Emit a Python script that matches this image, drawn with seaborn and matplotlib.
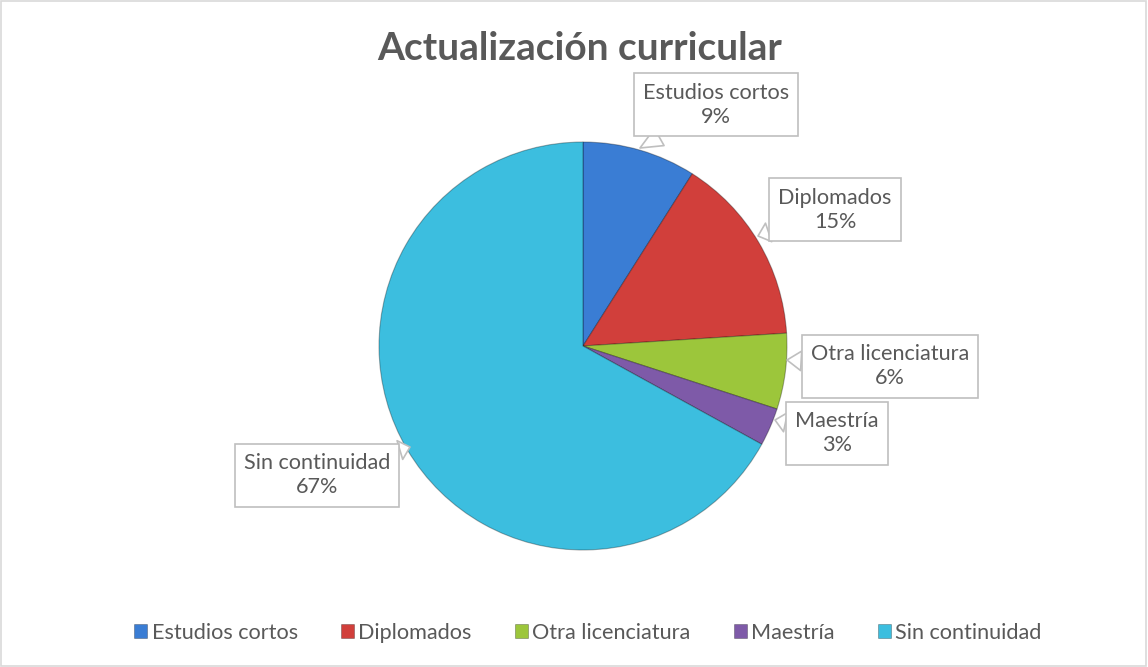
import matplotlib
matplotlib.use("Agg")
import matplotlib.pyplot as plt
import seaborn as sns
from matplotlib.patches import Rectangle, Patch

categories = ["Estudios cortos", "Diplomados", "Otra licenciatura", "Maestría", "Sin continuidad"]
values = [9, 15, 6, 3, 67]
pct_labels = ["9%", "15%", "6%", "3%", "67%"]

sns.set_theme(style="white")
plt.rcParams['font.family'] = ['Lato', 'DejaVu Sans']

palette = sns.color_palette(["#3A7DD4", "#D13F3B", "#9CC63B", "#7E5AA8", "#3CBEDF"])
text_color = "#595959"

W, H = 1148, 667
fig = plt.figure(figsize=(W / 100, H / 100), dpi=100)
fig.patch.set_facecolor("white")

cx, cy, r = 583, 346, 204
ax = fig.add_axes([(cx - r) / W, (H - cy - r) / H, 2 * r / W, 2 * r / H])
wedges, _ = ax.pie(values, colors=palette, startangle=90, counterclock=False,
                   radius=1, wedgeprops=dict(edgecolor=(0, 0, 0, 0.3), linewidth=0.8))
ax.set_xlim(-1, 1)
ax.set_ylim(-1, 1)
ax.set_aspect("equal")
ax.axis("off")

def px(x, y):
    return ((x - cx) / r, (cy - y) / r)

text_pos = [px(716, 105), px(835, 210), px(890, 366), px(837, 433), px(317, 475)]
tip_pos = [px(640, 148), px(758, 236), px(787, 360), px(775, 420), px(410, 447)]

for cat, lab, tp, ap in zip(categories, pct_labels, text_pos, tip_pos):
    ax.annotate(f"{cat}\n{lab}", xy=ap, xytext=tp, ha="center", va="center",
                fontsize=15.6, color=text_color, linespacing=1.3,
                bbox=dict(boxstyle="square,pad=0.42", fc="white", ec="#BFBFBF", lw=1.2),
                arrowprops=dict(arrowstyle="wedge,tail_width=0.9,shrink_factor=0.5",
                                fc="white", ec="#BFBFBF", lw=1.2, shrinkA=0, shrinkB=0),
                annotation_clip=False, zorder=5)

fig.text(580 / W, 1 - 49 / H, "Actualización curricular", ha="center", va="center",
         fontsize=28, fontweight="bold", color=text_color)

handles = [Patch(facecolor=c, edgecolor=(0, 0, 0, 0.3), lw=0.6) for c in palette]
leg = fig.legend(handles, categories, loc="center", bbox_to_anchor=(588 / W, 1 - 633 / H),
                 ncol=5, frameon=False, fontsize=15.6, handlelength=0.6, handleheight=0.6,
                 handletextpad=0.2, columnspacing=2.0, labelcolor=text_color)

fig.add_artist(Rectangle((0.0005, 0.001), 0.998, 0.997, transform=fig.transFigure,
                         fill=False, ec="#D9D9D9", lw=1.2))

fig.savefig("out.png", dpi=100, facecolor="white")
